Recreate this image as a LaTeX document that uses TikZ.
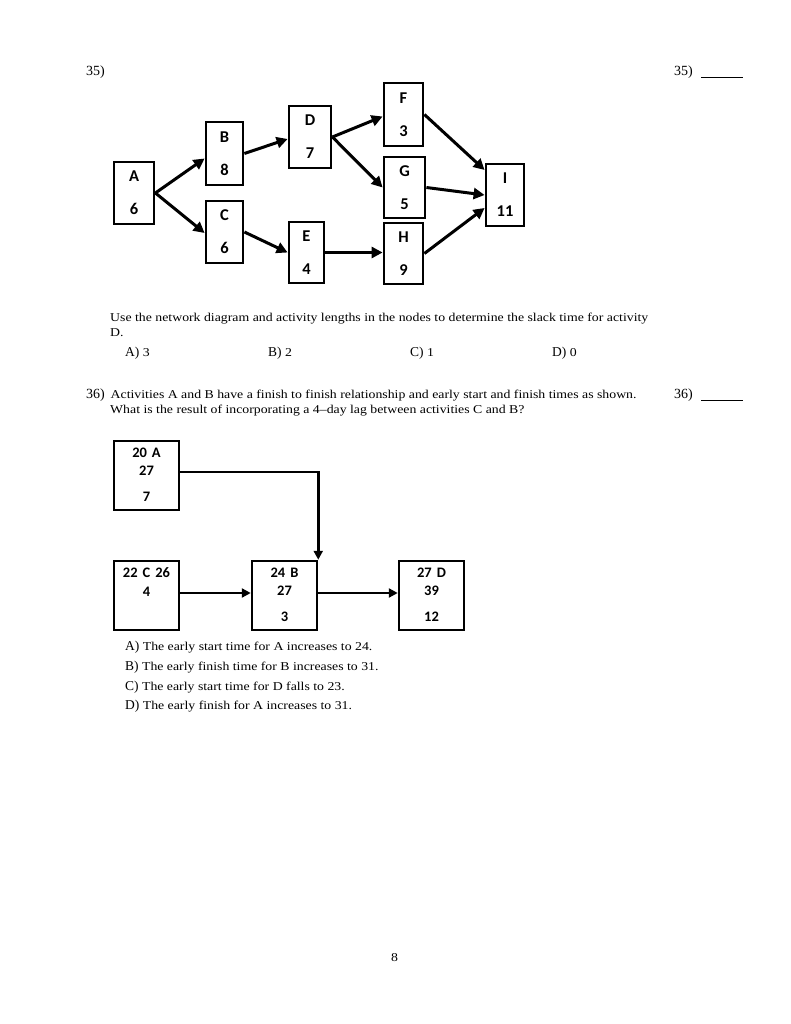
\documentclass[tikz,border=0pt]{standalone}
\usepackage{fontspec}
\setmainfont{Liberation Serif}
\newfontfamily\bodyfont[FakeStretch=1.15,Ligatures=TeX]{Liberation Serif}
\newfontfamily\calfont{Carlito}
\usetikzlibrary{arrows.meta,calc}
\begin{document}
\begin{tikzpicture}[x=1pt,y=-1pt,
  box1/.style 2 args={draw,line width=2.8pt,minimum width=#1,minimum height=#2,inner sep=0pt,align=center,
     font=\calfont\bfseries\fontsize{16.5}{19}\selectfont},
  box2/.style={draw,line width=2.5pt,minimum width=65,minimum height=69,inner sep=0pt},
  t2/.style={anchor=north,inner sep=0pt,align=center,font=\calfont\bfseries\fontsize{14.5}{17}\selectfont},
  arr1/.style={line width=3pt,-{Triangle[length=11pt,width=11pt]}},
  arr2/.style={line width=2.6pt,-{Triangle[length=9pt,width=9pt]}},
  txt/.style={anchor=base west,inner sep=0pt,font=\bodyfont\fontsize{12}{14}\selectfont},
  num/.style={anchor=base west,inner sep=0pt,font=\fontsize{14}{16}\selectfont},
  lab/.style={anchor=base west,inner sep=0pt,font=\fontsize{13.5}{15}\selectfont},
  blank/.style={line width=0.9pt}]
\useasboundingbox[fill=white] (0,0) rectangle (791,1024);

% ---------- Question 35 ----------
\node[num] (q35) at (86,76) {35)};
\node[num] (q35r) at (674,76) {35)};
\coordinate (u35a) at (701,77);
\coordinate (u35b) at (743,77);
\draw[blank] (u35a) -- (u35b);

\node[box1={40}{62}] (A) at (134,193) {A\\[14pt]6};
\node[box1={37}{63}] (B) at (224.5,153.5) {B\\[14pt]8};
\node[box1={37}{62}] (C) at (224.5,232) {C\\[14pt]6};
\node[box1={42}{62}] (D) at (310,137) {D\\[14pt]7};
\node[box1={35}{61}] (E) at (306.5,252.5) {E\\[14pt]4};
\node[box1={39}{63}] (F) at (403.5,114.5) {F\\[14pt]3};
\node[box1={41}{61}] (G) at (404.5,187.5) {G\\[14pt]5};
\node[box1={39}{61}] (H) at (403.5,253.5) {H\\[14pt]9};
\node[box1={38}{62}] (I) at (505,195) {I\\[14pt]11};

\draw[arr1] (A.east) -- ([yshift=-5pt]B.west);
\draw[arr1] (A.east) -- ([yshift=-1pt]C.west);
\draw[arr1] (B.east) -- ([yshift=-2pt]D.west);
\draw[arr1] (D.east) -- ([yshift=-2pt]F.west);
\draw[arr1] (D.east) -- (G.west);
\draw[arr1] (C.east) -- (E.west);
\draw[arr1] (E.east) -- (H.west |- E.east);
\draw[arr1] (F.east) -- ([yshift=25pt]I.west);
\draw[arr1] (G.east) -- (I.west);
\draw[arr1] (H.east) -- ([yshift=-13pt]I.west);

\node[txt] (q35t1) at (110,321) {Use the network diagram and activity lengths in the nodes to determine the slack time for activity};
\node[txt] (q35t2) at (110,336) {D.};
\node[lab] (a35) at (125,356) {A) \bodyfont\fontsize{12}{14}\selectfont 3};
\node[lab] (b35) at (268,356) {B) \bodyfont\fontsize{12}{14}\selectfont 2};
\node[lab] (c35) at (410,356) {C) \bodyfont\fontsize{12}{14}\selectfont 1};
\node[lab] (d35) at (552,356) {D) \bodyfont\fontsize{12}{14}\selectfont 0};

% ---------- Question 36 ----------
\node[num] (q36) at (86,398) {36)};
\node[txt] (q36t1) at (110.5,398) {Activities A and B have a finish to finish relationship and early start and finish times as shown.};
\node[txt] (q36t2) at (110,413) {What is the result of incorporating a 4–day lag between activities C and B?};
\node[num] (q36r) at (674,398) {36)};
\coordinate (u36a) at (701,400);
\coordinate (u36b) at (743,400);
\draw[blank] (u36a) -- (u36b);

\node[box2] (A2) at (146.5,475.5) {};
\node[box2] (C2) at (146.5,595.5) {};
\node[box2] (B2) at (284.5,595.5) {};
\node[box2] (D2) at (431.5,595.5) {};

\node[t2] (A2t) at ([yshift=-8pt]A2.north) {20\hspace{5pt}A\\[1pt]27\\[9pt]7};
\node[t2] (C2t) at ([yshift=-8pt]C2.north) {22\hspace{5pt}C\hspace{5pt}26\\[2pt]4};
\node[t2] (B2t) at ([yshift=-8pt]B2.north) {24\hspace{5pt}B\\[1pt]27\\[9pt]3};
\node[t2] (D2t) at ([yshift=-8pt]D2.north) {27\hspace{5pt}D\\[1pt]39\\[9pt]12};

\draw[arr2] ([yshift=3.5pt]A2.east) -| (B2.north east);
\draw[arr2] ([yshift=2.5pt]C2.east) -- ([yshift=2.5pt]B2.west);
\draw[arr2] ([yshift=2.5pt]B2.east) -- ([yshift=2.5pt]D2.west);

\node[lab] (a36) at (125,650) {A) \bodyfont\fontsize{12}{14}\selectfont The early start time for A increases to 24.};
\node[lab] (b36) at (125,670) {B) \bodyfont\fontsize{12}{14}\selectfont The early finish time for B increases to 31.};
\node[lab] (c36) at (125,690) {C) \bodyfont\fontsize{12}{14}\selectfont The early start time for D falls to 23.};
\node[lab] (d36) at (125,709) {D) \bodyfont\fontsize{12}{14}\selectfont The early finish for A increases to 31.};

\node[txt] (pg) at (391,961) {8};
\end{tikzpicture}
\end{document}
